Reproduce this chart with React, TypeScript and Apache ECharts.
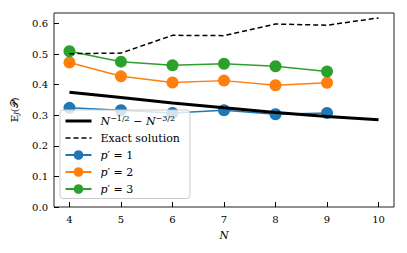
import React, { useEffect, useRef } from "react";
import * as echarts from "echarts";

const nValues = [4, 5, 6, 7, 8, 9, 10];
const nValuesP = [4, 5, 6, 7, 8, 9];
const boundValues = [0.375, 0.358, 0.34, 0.324, 0.309, 0.296, 0.285];
const exactValues = [0.501, 0.503, 0.561, 0.56, 0.598, 0.594, 0.618];
const p1Values = [0.324, 0.316, 0.307, 0.316, 0.303, 0.307];
const p2Values = [0.472, 0.427, 0.407, 0.413, 0.398, 0.406];
const p3Values = [0.509, 0.475, 0.463, 0.468, 0.46, 0.443];
const xTicks = [4, 5, 6, 7, 8, 9, 10];
const yTicks = [0, 0.1, 0.2, 0.3, 0.4, 0.5, 0.6];

const FONT = "DejaVu Serif";

const pairs = (xs: number[], ys: number[]) => xs.map((x, i) => [x, ys[i]]);

export default function App() {
  const ref = useRef<HTMLDivElement>(null);
  useEffect(() => {
    if (!ref.current) return;
    const chart = echarts.init(ref.current, null, { renderer: "svg" });
    const mk = (name: string, ys: number[], color: string) => ({
      name,
      type: "line",
      data: pairs(nValuesP, ys),
      symbol: "circle",
      symbolSize: 12,
      itemStyle: { color },
      lineStyle: { color, width: 1.5 },
      z: 3,
    });
    const legendText: Record<string, string> = {
      bound: "{i|N}{sup|−1/2}{t| − }{i|N}{sup|−3/2}",
      exact: "{t|Exact solution}",
      p1: "{i|p}{t|′ = 1}",
      p2: "{i|p}{t|′ = 2}",
      p3: "{i|p}{t|′ = 3}",
    };
    chart.setOption({
      animation: false,
      textStyle: { fontFamily: FONT },
      grid: {
        left: 54,
        right: 13,
        top: 13,
        bottom: 46,
        show: true,
        borderColor: "#222",
        borderWidth: 1,
        backgroundColor: "transparent",
      },
      xAxis: {
        type: "value",
        min: 3.7,
        max: 10.3,
        name: "N",
        nameLocation: "middle",
        nameGap: 22,
        nameTextStyle: { fontFamily: FONT, fontStyle: "italic", fontSize: 10.5, color: "#000" },
        axisLine: { show: false },
        splitLine: { show: false },
        axisTick: { show: true, customValues: xTicks, length: 5, inside: true, lineStyle: { color: "#000" } },
        axisLabel: {
          customValues: xTicks,
          fontFamily: FONT,
          fontSize: 10,
          color: "#000",
          margin: 7,
        },
      },
      yAxis: {
        type: "value",
        min: 0,
        max: 0.634,
        name: "{e|𝔼}{s|J}{t|(𝒫)}",
        nameLocation: "middle",
        nameGap: 34,
        nameRotate: 90,
        nameTextStyle: {
          fontFamily: FONT,
          fontSize: 10,
          color: "#000",
          rich: {
            e: { fontFamily: FONT, fontSize: 10, color: "#000" },
            s: { fontFamily: FONT, fontSize: 7, color: "#000", fontStyle: "italic", padding: [4, 0, 0, 0] },
            t: { fontFamily: FONT, fontSize: 10, color: "#000" },
          },
        },
        axisLine: { show: false },
        splitLine: { show: false },
        axisTick: { show: true, customValues: yTicks, length: 5, inside: true, lineStyle: { color: "#000" } },
        axisLabel: {
          customValues: yTicks,
          fontFamily: FONT,
          fontSize: 10,
          color: "#000",
          margin: 6,
          formatter: (v: number) => v.toFixed(1),
        },
      },
      legend: {
        orient: "vertical",
        left: 60,
        top: 110,
        itemWidth: 26,
        itemHeight: 12,
        itemGap: 6,
        padding: [4, 10, 4, 4],
        backgroundColor: "rgba(255,255,255,0.8)",
        borderColor: "#ccc",
        borderWidth: 1,
        borderRadius: 3,
        z: 10,
        data: [
          { name: "bound", itemStyle: { opacity: 0 }, lineStyle: { width: 3, color: "#000" } },
          { name: "exact", itemStyle: { opacity: 0 }, lineStyle: { width: 1.5, color: "#000", type: [5, 3] } },
          "p1",
          "p2",
          "p3",
        ],
        formatter: (name: string) => legendText[name],
        textStyle: {
          fontFamily: FONT,
          fontSize: 11,
          color: "#000",
          padding: [0, 0, 0, 4],
          rich: {
            i: { fontFamily: FONT, fontSize: 11, fontStyle: "italic", color: "#000" },
            t: { fontFamily: FONT, fontSize: 11, color: "#000" },
            sup: { fontFamily: FONT, fontSize: 8, color: "#000", padding: [0, 0, 6, 0] },
          },
        },
      },
      series: [
        mk("p1", p1Values, "#1f77b4"),
        mk("p2", p2Values, "#ff7f0e"),
        mk("p3", p3Values, "#2ca02c"),
        {
          name: "bound",
          type: "line",
          data: pairs(nValues, boundValues),
          symbol: "none",
          itemStyle: { color: "#000" },
          lineStyle: { color: "#000", width: 3 },
          z: 4,
        },
        {
          name: "exact",
          type: "line",
          data: pairs(nValues, exactValues),
          symbol: "none",
          itemStyle: { color: "#000" },
          lineStyle: { color: "#000", width: 1.5, type: [5, 3] },
          z: 4,
        },
      ],
    });
    return () => chart.dispose();
  }, []);
  return <div ref={ref} style={{ width: 407, height: 253, margin: -8, background: "#fff" }} />;
}
